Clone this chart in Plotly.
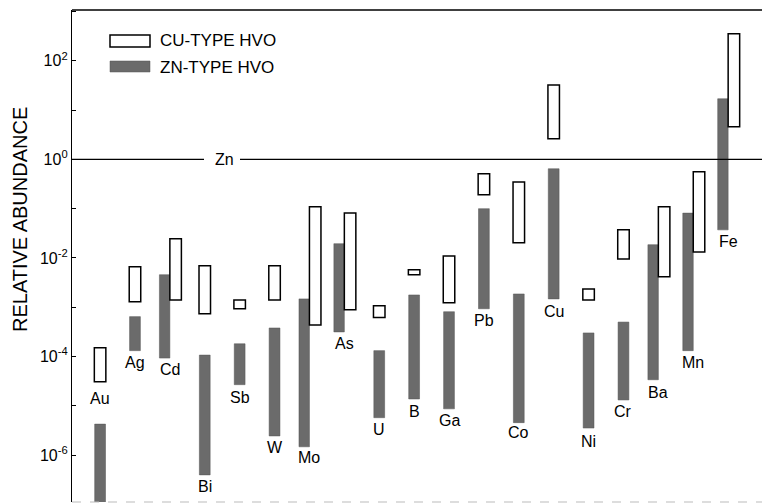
import plotly.graph_objects as go

# ---- data (log10 of relative abundance) ----
elements = ["Au", "Ag", "Cd", "Bi", "Sb", "W", "Mo", "As", "U", "B",
            "Ga", "Pb", "Co", "Cu", "Ni", "Cr", "Ba", "Mn", "Fe"]

cu_log_hi = [-3.82, -2.18, -1.61, -2.16, -2.85, -2.16, -0.96, -1.09, -2.97, -2.24,
             -1.96, -0.29, -0.46, 1.51, -2.63, -1.43, -0.96, -0.25, 2.55]
cu_log_lo = [-4.51, -2.89, -2.85, -3.13, -3.03, -2.85, -3.36, -3.05, -3.21, -2.34,
             -2.91, -0.72, -1.69, 0.42, -2.85, -2.02, -2.38, -1.88, 0.66]

zn_log_hi = [-5.37, -3.19, -2.34, -3.97, -3.74, -3.42, -2.83, -1.71, -3.88, -2.75,
             -3.09, -1.00, -2.73, -0.19, -3.52, -3.30, -1.73, -1.09, 1.23]
zn_log_lo = [-7.30, -3.88, -4.03, -6.40, -4.57, -5.61, -5.83, -3.50, -5.24, -4.86,
             -5.06, -3.03, -5.34, -2.83, -5.45, -4.88, -4.47, -3.88, -1.43]

label_log = [-4.86, -4.13, -4.27, -6.64, -4.84, -5.85, -6.05, -3.74, -5.47, -5.12,
             -5.30, -3.27, -5.55, -3.09, -5.73, -5.12, -4.72, -4.13, -1.67]

# elements whose two ranges are drawn side by side
side_by_side = {"Cd", "Mo", "As", "Ba", "Mn", "Fe"}

ytick_exp = [-6, -4, -2, 0, 2]
ytick_text = ["10<sup>-6</sup>", "10<sup>-4</sup>", "10<sup>-2</sup>", "10<sup>0</sup>", "10<sup>2</sup>"]
yminor_exp = [-5, -3, -1, 1, 3]

# ---- layout geometry ----
W, H = 762, 504
L_M, R_M, T_M, B_M = 72, 0, 10, 2
PW, PH = W - L_M - R_M, H - T_M - B_M


def px(x):
    return (x - L_M) / PW


def py(y):
    return 1 - (y - T_M) / PH


FONT = "Liberation Sans, Arial, Helvetica, sans-serif"

cu_base = [10 ** v for v in cu_log_lo]
cu_len = [10 ** h - 10 ** l for h, l in zip(cu_log_hi, cu_log_lo)]
zn_base = [10 ** v for v in zn_log_lo]
zn_len = [10 ** h - 10 ** l for h, l in zip(zn_log_hi, zn_log_lo)]

cu_off = [0.0 if e in side_by_side else -0.165 for e in elements]
cu_w = [0.33 for e in elements]
zn_off = [-0.30 if e in side_by_side else -0.155 for e in elements]
zn_w = [0.30 if e in side_by_side else 0.31 for e in elements]

fig = go.Figure()
fig.add_trace(go.Bar(
    x=elements, y=zn_len, base=zn_base, offset=zn_off, width=zn_w,
    marker=dict(color="#6b6b6b", line=dict(color="#555555", width=0.5)),
    name="ZN-TYPE HVO", showlegend=False,
))
fig.add_trace(go.Bar(
    x=elements, y=cu_len, base=cu_base, offset=cu_off, width=cu_w,
    marker=dict(color="white", line=dict(color="black", width=1.5)),
    name="CU-TYPE HVO", showlegend=False,
))

# element labels
for e, lv in zip(elements, label_log):
    fig.add_annotation(x=e, y=lv, xref="x", yref="y", text=e, showarrow=False,
                       font=dict(size=16, color="black", family=FONT),
                       xanchor="center", yanchor="middle")

shapes = []
# Zn reference line (y = 1), broken around the label
shapes.append(dict(type="line", xref="paper", yref="y", x0=0, x1=px(204), y0=1, y1=1,
                   line=dict(color="black", width=1.3)))
shapes.append(dict(type="line", xref="paper", yref="y", x0=px(240), x1=1, y0=1, y1=1,
                   line=dict(color="black", width=1.3)))
fig.add_annotation(x=px(224.5), y=0, xref="paper", yref="y", text="Zn", showarrow=False,
                   font=dict(size=16, color="black", family=FONT),
                   xanchor="center", yanchor="middle")

# top frame line and faint bottom line
shapes.append(dict(type="line", xref="paper", yref="paper", x0=0, x1=1, y0=1, y1=1,
                   line=dict(color="black", width=1.3)))
shapes.append(dict(type="line", xref="paper", yref="paper", x0=0, x1=1, y0=0, y1=0,
                   line=dict(color="#bbbbbb", width=1, dash="dash")))

# legend swatches
shapes.append(dict(type="rect", xref="paper", yref="paper",
                   x0=px(110), x1=px(150), y0=py(47), y1=py(35),
                   line=dict(color="black", width=1.5), fillcolor="white"))
shapes.append(dict(type="rect", xref="paper", yref="paper",
                   x0=px(110), x1=px(150), y0=py(72), y1=py(61),
                   line=dict(color="#555555", width=0.5), fillcolor="#6b6b6b"))
fig.add_annotation(x=px(158), y=py(41), xref="paper", yref="paper", text="CU-TYPE HVO",
                   showarrow=False, xanchor="left", yanchor="middle",
                   font=dict(size=17, color="black", family=FONT))
fig.add_annotation(x=px(158), y=py(67), xref="paper", yref="paper", text="ZN-TYPE HVO",
                   showarrow=False, xanchor="left", yanchor="middle",
                   font=dict(size=17, color="black", family=FONT))

# y-axis title
fig.add_annotation(x=px(20), y=py(220), xref="paper", yref="paper", text="RELATIVE ABUNDANCE",
                   showarrow=False, textangle=-90, xanchor="center", yanchor="middle",
                   font=dict(size=20, color="black", family=FONT))

fig.update_layout(
    width=W, height=H,
    margin=dict(l=L_M, r=R_M, t=T_M, b=B_M),
    paper_bgcolor="white", plot_bgcolor="white",
    barmode="overlay",
    shapes=shapes,
    font=dict(family=FONT, color="black"),
    xaxis=dict(type="category", range=[-0.805, 18.97], showticklabels=False,
               showline=False, showgrid=False, zeroline=False, ticks=""),
    yaxis=dict(type="log", range=[-6.95, 3.03], showgrid=False, zeroline=False,
               showline=True, linecolor="black", linewidth=1.3,
               tickmode="array", tickvals=[10 ** e for e in ytick_exp], ticktext=ytick_text,
               ticks="inside", ticklen=4, tickwidth=1.2,
               tickcolor="black", tickfont=dict(size=16, family=FONT, color="black"),
               minor=dict(tickmode="array", tickvals=[10 ** e for e in yminor_exp],
                          ticks="inside", ticklen=4, tickwidth=1, tickcolor="black")),
)

fig.write_html("out.html")
